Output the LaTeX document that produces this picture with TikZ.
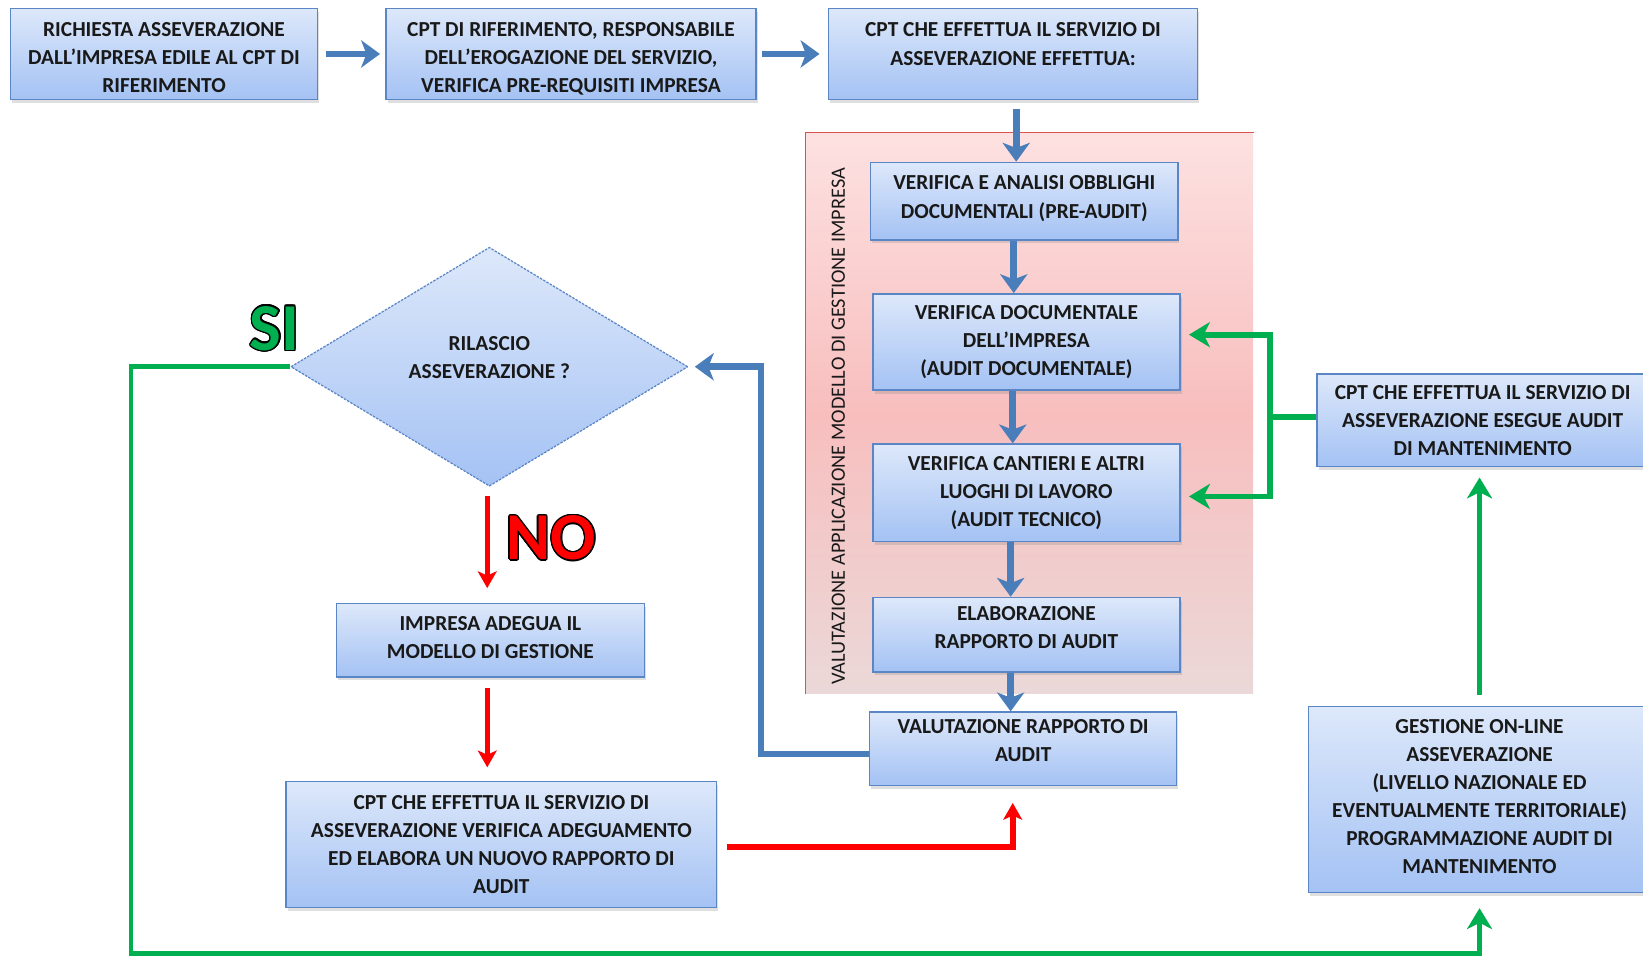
\documentclass[tikz,border=0pt]{standalone}
\usepackage{fontspec}
\setmainfont{Carlito}
\usepackage{contour}
\usetikzlibrary{positioning, shapes.geometric, arrows.meta, shadows}

\definecolor{boxtop}{HTML}{DDE8FA}
\definecolor{boxbot}{HTML}{A4C2F4}
\definecolor{boxline}{HTML}{5B86C5}
\definecolor{flowblue}{HTML}{4A7EBB}
\definecolor{flowgreen}{HTML}{00B050}
\definecolor{flowred}{HTML}{FF0000}
\definecolor{zonetop}{HTML}{FDE1E1}
\definecolor{zonemid}{HTML}{F8BEBE}
\definecolor{zonebot}{HTML}{EBD8D8}
\definecolor{zoneline}{HTML}{D9534F}
\contourlength{0.7pt}

\begin{document}
\begin{tikzpicture}[
        x=0.5pt, y=-0.5pt,
        every node/.style={font=\bfseries\fontsize{10.2}{13.4}\selectfont, text=black!90},
        box/.style={draw=boxline, line width=0.7pt, rectangle, top color=boxtop, bottom color=boxbot, align=center, inner sep=2pt, drop shadow={shadow xshift=0.8pt, shadow yshift=-1.6pt, opacity=0.25}},
        choice/.style={diamond, draw=boxline, line width=0.6pt, dash pattern=on 1.2pt off 0.6pt, top color=boxtop, bottom color=boxbot, minimum width=189.5pt, minimum height=114pt, inner sep=0pt, align=center, execute at end node={\rule[-9pt]{0pt}{0pt}}},
        zone/.style={rectangle, top color=zonetop, bottom color=zonebot, middle color=zonemid, inner sep=0pt},
        bluearrow/.style={draw=flowblue, line width=3.2pt, -{Stealth[length=9pt, width=13pt, inset=2.5pt]}},
        greenarrow/.style={draw=flowgreen, line width=2.8pt, -{Stealth[length=10pt, width=12pt, inset=3pt]}},
        redarrow/.style={draw=flowred, line width=2.2pt, -{Stealth[length=8pt, width=9pt, inset=2pt]}},
        answer/.style={font=\bfseries\fontsize{32}{32}\selectfont}
    ]

    \useasboundingbox (0,0) rectangle (1568,914);
    \clip (0,0) rectangle (1568,914);

    % top row
    \node[box, minimum width=146.5pt, minimum height=43.5pt, text height=36.9pt] (request) at (156.5,51.5) {RICHIESTA ASSEVERAZIONE\\DALL’IMPRESA EDILE AL CPT DI\\RIFERIMENTO};
    \node[box, minimum width=176.5pt, minimum height=43.5pt, text height=37.9pt, right=32pt of request] (reference) {CPT DI RIFERIMENTO, RESPONSABILE\\DELL’EROGAZIONE DEL SERVIZIO,\\VERIFICA PRE-REQUISITI IMPRESA};
    \node[box, minimum width=176pt, minimum height=43.5pt, text height=37.4pt, right=34pt of reference] (provider) {CPT CHE EFFETTUA IL SERVIZIO DI\\ASSEVERAZIONE EFFETTUA:\\\mbox{}};

    % evaluation zone
    \node[zone, minimum width=213.5pt, minimum height=267.5pt] (zone) at (982.5,394.5) {};
    \draw[zoneline, line width=0.8pt] (zone.south west) -- (zone.north west) -- (zone.north east);
    \node[rotate=90, font=\fontsize{9.7}{11}\selectfont] (zonelabel) at (800,407) {VALUTAZIONE APPLICAZIONE MODELLO DI GESTIONE IMPRESA};

    \node[box, minimum width=146.5pt, minimum height=37pt, text depth=4pt] (preaudit) at (977.5,192) {VERIFICA E ANALISI OBBLIGHI\\DOCUMENTALI (PRE-AUDIT)};
    \node[box, minimum width=146.5pt, minimum height=46pt, below=25pt of preaudit, xshift=1pt] (docaudit) {VERIFICA DOCUMENTALE\\DELL’IMPRESA\\(AUDIT DOCUMENTALE)};
    \node[box, minimum width=146.5pt, minimum height=46.5pt, below=25pt of docaudit] (siteaudit) {VERIFICA CANTIERI E ALTRI\\LUOGHI DI LAVORO\\(AUDIT TECNICO)};
    \node[box, minimum width=146.5pt, minimum height=35.5pt, text depth=7pt, below=26pt of siteaudit] (report) {ELABORAZIONE\\RAPPORTO DI AUDIT};
    \node[box, minimum width=146.5pt, minimum height=35pt, text depth=8pt, below=18.5pt of report, xshift=-1.5pt] (review) {VALUTAZIONE RAPPORTO DI\\AUDIT};

    % decision and rework
    \node[choice] (decision) at (467,350) {RILASCIO\\ASSEVERAZIONE ?};
    \node[answer] (yes) at (262,314) {\contour{black}{\textcolor{flowgreen}{SI}}};
    \node[answer] (no) at (526,514) {\contour{black}{\textcolor{flowred}{NO}}};
    \node[box, minimum width=147pt, minimum height=35pt, text depth=3pt] (adjust) at (468,611) {IMPRESA ADEGUA IL\\MODELLO DI GESTIONE};
    \node[box, minimum width=205.5pt, minimum height=60pt] (recheck) at (478.5,806) {CPT CHE EFFETTUA IL SERVIZIO DI\\ASSEVERAZIONE VERIFICA ADEGUAMENTO\\ED ELABORA UN NUOVO RAPPORTO DI\\AUDIT};

    % maintenance
    \node[box, minimum width=158pt, minimum height=44pt] (followup) at (1415,401) {CPT CHE EFFETTUA IL SERVIZIO DI\\ASSEVERAZIONE ESEGUE AUDIT\\DI MANTENIMENTO};
    \node[box, minimum width=163pt, minimum height=89pt, text depth=3pt] (online) at (1412,763) {GESTIONE ON-LINE\\ASSEVERAZIONE\\(LIVELLO NAZIONALE ED\\EVENTUALMENTE TERRITORIALE)\\PROGRAMMAZIONE AUDIT DI\\MANTENIMENTO};

    \coordinate (loopcorner) at (125,910);

    \draw[bluearrow, shorten <=3.5pt, shorten >=2.5pt] (request) -- (reference);
    \draw[bluearrow, shorten <=2.5pt, shorten >=4pt] (reference) -- (provider);
    \draw[bluearrow, shorten <=4pt] ([xshift=1.5pt]provider.south) -- ([xshift=1.5pt]provider.south |- preaudit.north);

    \draw[bluearrow] ([xshift=-5pt]preaudit.south) -- ([xshift=-5pt]preaudit.south |- docaudit.north);
    \draw[bluearrow] ([xshift=-6.5pt]docaudit.south) -- ([xshift=-6.5pt]docaudit.south |- siteaudit.north);
    \draw[bluearrow] ([xshift=-7.5pt]siteaudit.south) -- ([xshift=-7.5pt]siteaudit.south |- report.north);
    \draw[bluearrow] ([xshift=-7.5pt]report.south) -- ([xshift=-7.5pt]report.south |- review.north);

    \draw[bluearrow, shorten >=3pt] ([yshift=-2.5pt]review.west) -- ++(-51.5pt,0) |- (decision.east);

    \draw[redarrow, shorten <=4.5pt, shorten >=7pt] ([xshift=-1pt]decision.south) -- ([xshift=-1pt]decision.south |- adjust.north);
    \draw[redarrow, shorten <=5pt, shorten >=6.5pt] ([xshift=-1.5pt]adjust.south) -- ([xshift=-1.5pt]adjust.south |- recheck.north);
    \draw[redarrow, line width=3pt, shorten <=4.5pt, shorten >=8pt] ([yshift=-1pt]recheck.east) -| ([xshift=-5pt]review.south);

    \draw[flowgreen, line width=2.8pt] ([yshift=1.5pt]followup.west) -- ++(-22pt,0) coordinate (fork);
    \draw[greenarrow, shorten >=4pt] (fork) |- ([yshift=3.5pt]docaudit.east);
    \draw[greenarrow, shorten >=4pt] (fork) |- ([yshift=-1.75pt]siteaudit.east);
    \draw[greenarrow, shorten <=5pt, shorten >=5pt] (online.north) -- (online.north |- followup.south);

    \draw[greenarrow, line width=2.3pt, shorten >=7pt] (decision.west) -| (loopcorner) -| (online.south);

\end{tikzpicture}
\end{document}
